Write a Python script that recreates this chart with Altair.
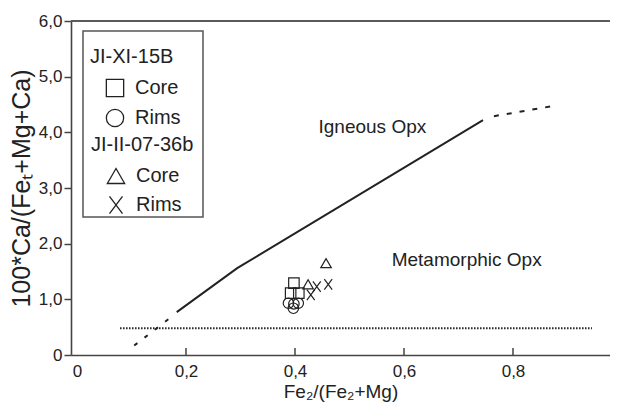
import altair as alt
import pandas as pd

# ---- data ----
core1_x = [0.398, 0.392, 0.407]
core1_y = [1.29, 1.11, 1.11]
rims1_x = [0.388, 0.398, 0.406, 0.397]
rims1_y = [0.93, 0.92, 0.93, 0.84]
core2_x = [0.457, 0.424]
core2_y = [1.65, 1.27]
rims2_x = [0.461, 0.440, 0.429]
rims2_y = [1.27, 1.23, 1.08]

solid_x = [0.183, 0.294, 0.745]
solid_y = [0.77, 1.56, 4.22]
upper_dash_x = [0.765, 0.872]
upper_dash_y = [4.29, 4.47]
lower_dash_x = [0.105, 0.178]
lower_dash_y = [0.17, 0.72]
dotted_x = [0.079, 0.945]
dotted_y = [0.48, 0.48]

labels_txt = ["Igneous Opx", "Metamorphic Opx"]
labels_x = [0.542, 0.715]
labels_y = [4.09, 1.71]

x_ticks = [0, 0.2, 0.4, 0.6, 0.8]
x_inner_ticks = [0.2, 0.4, 0.6, 0.8]
y_ticks = [0, 1, 2, 3, 4, 5, 6]

FONT = "Liberation Sans"
INK = "#222222"
FRAME = "#444444"
W, H = 539, 334

xs = alt.Scale(domain=[-0.011, 0.978], nice=False, zero=False)
ys = alt.Scale(domain=[0, 6], nice=False)

xaxis = alt.Axis(
    values=x_ticks,
    labelExpr="datum.value == 0 ? '0' : replace(format(datum.value, '.1f'), '.', ',')",
    ticks=False, grid=False, domainColor=FRAME, domainWidth=1.6,
    labelFontSize=17, labelColor=INK, labelPadding=8, labelFlush=False,
    title="Fe₂/(Fe₂+Mg)", titleFontSize=19, titleFontWeight="normal",
    titleColor=INK, titlePadding=3,
)
yaxis = alt.Axis(
    values=y_ticks,
    labelExpr="datum.value == 0 ? '0' : replace(format(datum.value, '.1f'), '.', ',')",
    tickSize=7, tickColor=FRAME, tickWidth=1.5, grid=False,
    domainColor=FRAME, domainWidth=1.6,
    labelFontSize=17, labelColor=INK, labelPadding=2, labelFlush=False,
    title="100*Ca/(Feₜ+Mg+Ca)", titleFontSize=25, titleFontWeight="normal",
    titleColor=INK, titlePadding=4,
)
X = alt.X("x:Q", scale=xs, axis=xaxis)
Y = alt.Y("y:Q", scale=ys, axis=yaxis)


def line_df(xv, yv):
    return pd.DataFrame({"x": xv, "y": yv})


solid = alt.Chart(line_df(solid_x, solid_y)).mark_line(
    color=INK, strokeWidth=2).encode(x=X, y=Y)
upper = alt.Chart(line_df(upper_dash_x, upper_dash_y)).mark_line(
    color=INK, strokeWidth=2, strokeDash=[5, 8]).encode(x=X, y=Y)
lower = alt.Chart(line_df(lower_dash_x, lower_dash_y)).mark_line(
    color=INK, strokeWidth=2, strokeDash=[4, 9]).encode(x=X, y=Y)
dotted = alt.Chart(line_df(dotted_x, dotted_y)).mark_line(
    color=INK, strokeWidth=2, strokeDash=[1.5, 1.5]).encode(x=X, y=Y)

inner_ticks = alt.Chart(pd.DataFrame({"x": x_inner_ticks})).mark_rule(
    color=FRAME, strokeWidth=1.5).encode(x=X, y=alt.value(H), y2=alt.value(H - 7))

top_border = alt.Chart(pd.DataFrame({"a": [0]})).mark_rule(
    color="#5a5a5a", strokeWidth=2).encode(
    x=alt.value(0), x2=alt.value(W), y=alt.value(0))

legend_box = alt.Chart(pd.DataFrame({"a": [0]})).mark_rect(
    fill="white", fillOpacity=0, stroke="#555555", strokeWidth=1.5).encode(
    x=alt.value(12), x2=alt.value(132), y=alt.value(10), y2=alt.value(196))

texts = alt.Chart(pd.DataFrame({"x": labels_x, "y": labels_y, "t": labels_txt})).mark_text(
    font=FONT, fontSize=19, color=INK, align="center", baseline="middle").encode(
    x=X, y=Y, text="t:N")

df1 = pd.concat([
    pd.DataFrame({"x": core1_x, "y": core1_y, "type": "Core"}),
    pd.DataFrame({"x": rims1_x, "y": rims1_y, "type": "Rims"}),
])
df2 = pd.concat([
    pd.DataFrame({"x": core2_x, "y": core2_y, "type": "Core"}),
    pd.DataFrame({"x": rims2_x, "y": rims2_y, "type": "Rims"}),
])

XPATH = "M-0.75,-1L0.75,1M-0.75,1L0.75,-1"

leg_common = dict(
    orient="none", padding=0, titleFontSize=20, titleFontWeight="normal",
    titleColor=INK, titleFont=FONT, labelFont=FONT, labelFontSize=20,
    labelColor=INK, titlePadding=11, rowPadding=6, symbolOffset=15,
    labelOffset=10, symbolStrokeColor=INK, symbolStrokeWidth=1.3,
    symbolFillColor="transparent", symbolSize=300, symbolOpacity=1,
)

pts1 = alt.Chart(df1).mark_point(filled=False, color=INK, opacity=1, strokeWidth=1.2, size=110).encode(
    x=X, y=Y,
    shape=alt.Shape("type:N", scale=alt.Scale(domain=["Core", "Rims"], range=["square", "circle"]),
                    legend=alt.Legend(title="JI-XI-15B", legendX=19, legendY=26, **leg_common)),
)
pts2 = alt.Chart(df2).mark_point(filled=False, color=INK, opacity=1, strokeWidth=1.2, size=110).encode(
    x=X, y=Y,
    shape=alt.Shape("type:N", scale=alt.Scale(domain=["Core", "Rims"], range=["triangle-up", XPATH]),
                    legend=alt.Legend(title="JI-II-07-36b", legendX=20, legendY=114, **leg_common)),
)

chart = alt.layer(
    top_border, inner_ticks, dotted, lower, solid, upper, texts, legend_box, pts1, pts2
).resolve_scale(shape="independent").properties(
    width=W, height=H,
    autosize=alt.AutoSizeParams(type="none"),
    padding={"left": 63, "top": 13, "right": 0, "bottom": 49},
).configure(font=FONT).configure_view(stroke="transparent")

chart.save("out.html", embed_options={"renderer": "svg", "actions": False})
